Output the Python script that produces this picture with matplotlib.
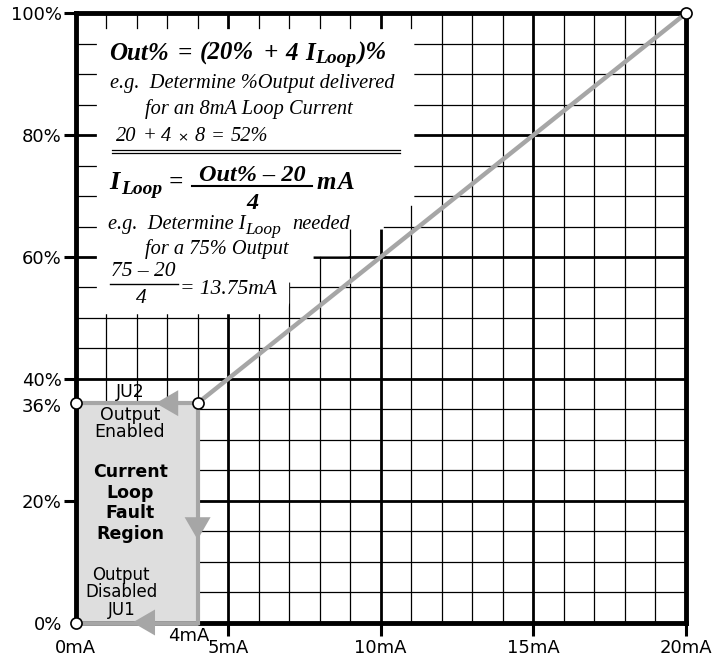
import matplotlib
matplotlib.use("Agg")
import matplotlib.pyplot as plt
from matplotlib.patches import Polygon, Rectangle
from matplotlib.transforms import IdentityTransform

SANS = 'DejaVu Sans'
SER = 'Liberation Serif'

# ---- data ----
x_ticks = [0, 5, 10, 15, 20]
x_ticklabels = ['0mA', '5mA', '10mA', '15mA', '20mA']
y_ticks = [0, 20, 40, 60, 80, 100]
y_ticklabels = ['0%', '20%', '40%', '60%', '80%', '100%']
line_x = [4, 20]          # mA
line_y = [36, 100]        # %
fault_x = [0, 4]          # mA
fault_y = [0, 36]         # %
points_x = [0, 4, 0, 20]
points_y = [36, 36, 0, 100]

GRAY = '#a6a6a6'
FILL = '#dedede'

fig = plt.figure(figsize=(7.19, 6.60), dpi=100)
ax = fig.add_axes([75.5/719, 37.5/660, 610.5/719, 609.2/660])
ax.set_xlim(0, 20)
ax.set_ylim(0, 100)
renderer = fig.canvas.get_renderer()

# grid
for xv in range(0, 21):
    major = xv % 5 == 0
    ax.axvline(xv, color='black', lw=2.0 if major else 0.9, zorder=1)
for yv in range(0, 101, 5):
    major = yv % 20 == 0
    ax.axhline(yv, color='black', lw=2.0 if major else 0.9, zorder=1)

# white formula box (stepped, following the diagonal)
box = [(0.7, 97.4), (11.1, 97.4), (11.1, 68.4), (10.1, 68.4), (10.1, 64.5),
       (8.95, 64.5), (8.95, 60.1), (7.8, 60.1), (7.8, 55.8), (7.0, 55.8),
       (7.0, 52.4), (6.9, 50.6), (0.7, 50.6)]
ax.add_patch(Polygon(box, closed=True, facecolor='white', edgecolor='none', zorder=2))

# fault region
ax.add_patch(Rectangle((fault_x[0], fault_y[0]), fault_x[1]-fault_x[0], fault_y[1]-fault_y[0],
                       facecolor=FILL, edgecolor='none', zorder=2))
ax.plot([fault_x[1], fault_x[0]], [fault_y[1], fault_y[1]], color=GRAY, lw=3, zorder=3,
        solid_capstyle='butt', clip_on=False)
ax.plot([fault_x[1], fault_x[1]], [fault_y[1], fault_y[0]], color=GRAY, lw=3, zorder=3,
        solid_capstyle='projecting', clip_on=False)
ax.plot([fault_x[1], fault_x[0]], [fault_y[0], fault_y[0]], color=GRAY, lw=3.5, zorder=3,
        solid_capstyle='butt', clip_on=False)

# arrows
arrow_kw = dict(arrowstyle='-|>,head_length=0.95,head_width=0.55', color=GRAY, lw=0,
                shrinkA=0, shrinkB=0, mutation_scale=17)
ax.annotate('', xy=(2.63, 36), xytext=(3.25, 36), arrowprops=arrow_kw, zorder=4,
            annotation_clip=False)
ax.annotate('', xy=(4, 13.6), xytext=(4, 16.6), arrowprops=arrow_kw, zorder=4,
            annotation_clip=False)
ax.annotate('', xy=(1.87, 0), xytext=(2.6, 0), arrowprops=arrow_kw, zorder=4,
            annotation_clip=False)

# diagonal transfer line
ax.plot(line_x, line_y, color=GRAY, lw=3.2, zorder=3, solid_capstyle='butt')

# points
ax.plot(points_x, points_y, 'o', ms=8, mfc='white', mec='black', mew=1.2, zorder=6,
        clip_on=False, ls='none')

# spines
for s in ax.spines.values():
    s.set_linewidth(3.5)
    s.set_zorder(2.5)

ax.set_xticks(x_ticks)
ax.set_xticklabels(x_ticklabels, fontsize=13, family=SANS)
ax.set_yticks(y_ticks)
ax.set_yticklabels(y_ticklabels, fontsize=13, family=SANS)
ax.tick_params(axis='x', length=9, width=2.2, pad=3.2)
ax.tick_params(axis='y', length=9, width=2.2, pad=0.8)
ax.xaxis.get_major_ticks()[0].tick1line.set_visible(False)
ax.yaxis.get_major_ticks()[0].tick1line.set_visible(False)

# extra axis labels
ax.text(3.7, -0.8, '4mA', ha='center', va='top', fontsize=13, family=SANS, clip_on=False)
ax.text(-0.44, 35.4, '36%', ha='right', va='center', fontsize=13, family=SANS, clip_on=False)

# fault region labels
def lines(xc, baselines, words, **kw):
    for yb, w in zip(baselines, words):
        ax.text(xc, yb, w, ha='center', va='baseline', zorder=7, family=SANS, **kw)

lines(1.78, [37.0], ['JU2'], fontsize=12.5)
lines(1.78, [33.2, 30.4], ['Output', 'Enabled'], fontsize=12.5)
lines(1.8, [23.9, 20.5, 17.2, 13.75], ['Current', 'Loop', 'Fault', 'Region'],
      fontsize=12.5, fontweight='bold')
ax.text(1.5, 1.31, 'Output\nDisabled\nJU1', ha='center', va='baseline', multialignment='center',
        zorder=7, family=SANS, fontsize=12, linespacing=0.93)


# ---- formula texts: chained pieces placed left to right ----
def chain(xd, yd, parts):
    """parts: (text, fontsize, props, dy_px, gap_px_before)"""
    X, Y = ax.transData.transform((xd, yd))
    for txt, size, props, dy, gap in parts:
        X += gap
        t = ax.text(X, Y + dy, txt, transform=IdentityTransform(), fontsize=size,
                    ha='left', va='baseline', zorder=7, **props)
        X = t.get_window_extent(renderer).x1
    return X

IT = dict(family=SER, style='italic')
BI = dict(family=SER, style='italic', weight='bold')

chain(1.1, 92.4, [('Out%', 18, BI, 0, 0),
                  ('=', 18, BI, 0, 9),
                  ('(20%', 18, BI, 0, 8),
                  ('+', 18, BI, 0, 9),
                  ('4', 18, BI, 0, 8),
                  ('I', 18, BI, 0, 7),
                  ('Loop', 14, BI, -3, 0),
                  (')%', 18, BI, 0, 2)])
chain(1.12, 87.7, [('e.g.  Determine %Output delivered', 14.7, IT, 0, 0)])
chain(2.27, 83.45, [('for an 8mA Loop Current', 14.7, IT, 0, 0)])
chain(1.33, 79.0, [('20', 14.7, IT, 0, 0),
                   ('+', 14.7, IT, 0, 6),
                   ('4', 14.7, IT, 0, 5),
                   ('\u00d7', 9.5, dict(family=SANS), 0, 6),
                   ('8', 14.7, IT, 0, 6),
                   ('=', 14.7, IT, 0, 6),
                   ('52%', 14.7, IT, 0, 6)])
ax.plot([1.2, 10.63], [77.55, 77.55], color='black', lw=0.9, zorder=7)
ax.plot([1.2, 10.63], [77.05, 77.05], color='black', lw=0.9, zorder=7)

chain(1.12, 71.15, [('I', 19, BI, 0, 0),
                    ('Loop', 14, BI, -5, 1),
                    ('=', 18, BI, 0, 6)])
ax.text(5.8, 72.45, 'Out% \u2013 20', fontsize=17.5, ha='center', va='baseline',
        zorder=7, **BI)
ax.plot([3.82, 7.75], [71.65, 71.65], color='black', lw=1.5, zorder=7)
ax.text(5.8, 67.9, '4', fontsize=17.5, ha='center', va='baseline', zorder=7, **BI)
chain(7.88, 71.15, [('m', 18, BI, 0, 0), ('A', 18, BI, 0, 1.5)])

chain(1.06, 64.6, [('e.g.  Determine I', 14.7, IT, 0, 0),
                   ('Loop', 12.5, IT, -5, 0),
                   ('needed', 14.7, IT, 0, 11)])
chain(2.27, 60.5, [('for a 75% Output', 14.7, IT, 0, 0)])
ax.text(2.23, 56.9, '75 \u2013 20', fontsize=15.5, ha='center', va='baseline', zorder=7, **IT)
ax.plot([1.12, 3.36], [55.6, 55.6], color='black', lw=1.0, zorder=7)
ax.text(2.17, 52.5, '4', fontsize=15.5, ha='center', va='baseline', zorder=7, **IT)
chain(3.42, 53.95, [('= 13.75mA', 15.5, IT, 0, 0)])

fig.savefig('out.png', dpi=100)
